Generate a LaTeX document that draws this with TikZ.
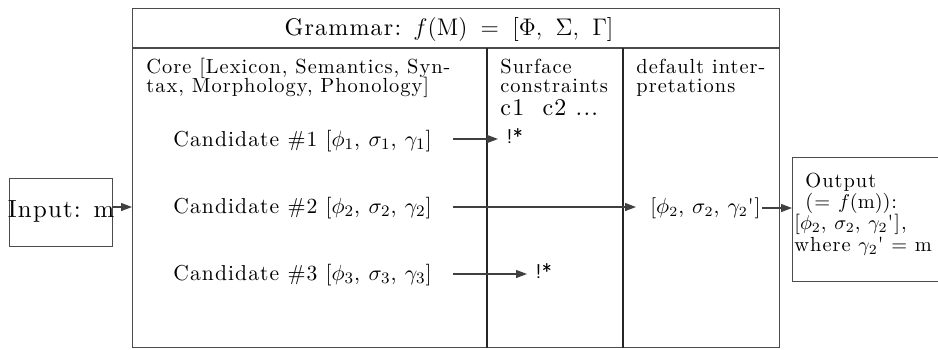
\documentclass[tikz,border=0pt]{standalone}
\usepackage{fontspec}
\usetikzlibrary{arrows.meta}
\newfontfamily\lmls{lmroman10-regular}[Extension=.otf,LetterSpace=5]
\begin{document}
\begin{tikzpicture}[x=0.5pt,y=-0.5pt,
  boxline/.style={draw=black!70, line width=0.6pt},
  divline/.style={draw=black!85, line width=0.6pt},
  arr/.style={draw=black!75, line width=0.6pt, -{Triangle[length=5.5pt,width=4pt]}},
  txt/.style={inner sep=0pt, anchor=base west, font=\lmls\fontsize{10.8}{12}\selectfont},
  small/.style={inner sep=0pt, anchor=base west, font=\lmls\fontsize{10.2}{11}\selectfont},
  bang/.style={inner sep=0pt, anchor=base west, font=\sffamily\fontsize{10}{12}\selectfont}]
\useasboundingbox (0,0) rectangle (938,349);
% grammar box
\node[boxline, anchor=north west, inner sep=0pt, minimum width=323.5pt, minimum height=169.5pt] (gram) at (132,8) {};
\coordinate (tl) at (132,48);
\coordinate (tr) at (779,48);
\draw[boxline] (tl) -- (tr);
\coordinate (d1t) at (487,48);
\coordinate (d2t) at (623,48);
\draw[divline] (d1t) -- (d1t |- gram.south);
\draw[divline] (d2t) -- (d2t |- gram.south);
\node[inner sep=0pt, anchor=base, font=\lmls\fontsize{12}{14}\selectfont] (title) at (449,35) {Grammar: $f(\mathrm{M})\;=\;[\Phi,\ \Sigma,\ \Gamma]$};
% column heads
\node[small] (core1) at (146,73) {Core [Lexicon, Semantics, Syn-};
\node[small] (core2) at (146,92) {tax, Morphology, Phonology]};
\node[small] (surf1) at (500,73) {Surface};
\node[small] (surf2) at (500,92) {constraints};
\node[inner sep=0pt, anchor=base west, font=\lmls\fontsize{12}{14}\selectfont] (cc) at (500,115) {c1\ \ c2 ...};
\node[small] (dflt1) at (636,73) {default inter-};
\node[small] (dflt2) at (636,92) {pretations};
% candidates
\node[txt] (c1) at (173,146) {Candidate \#1 [$\phi_1$, $\sigma_1$, $\gamma_1$]};
\node[txt] (c2) at (173,213) {Candidate \#2 [$\phi_2$, $\sigma_2$, $\gamma_2$]};
\node[txt] (c3) at (173,280) {Candidate \#3 [$\phi_3$, $\sigma_3$, $\gamma_3$]};
\coordinate (s1) at (453,139);
\coordinate (s2) at (453,207);
\coordinate (s3) at (453,274);
\node[bang] (x1) at (506,143) {!*};
\node[bang] (x3) at (535,278) {!*};
\node[inner sep=0pt, anchor=base west, font=\lmls\fontsize{10.5}{12}\selectfont] (r2) at (650,213) {[$\phi_2$, $\sigma_2$, $\gamma_2$']};
\draw[arr] (s1) -- ([xshift=-4pt]x1.west |- s1);
\draw[arr] (s2) -- ([xshift=-7pt]r2.west |- s2);
\draw[arr] (s3) -- ([xshift=-4pt]x3.west |- s3);
% input
\node[boxline, anchor=north west, inner sep=0pt, minimum width=51.5pt, minimum height=34pt] (inp) at (9,178) {};
\node[inner sep=0pt, anchor=base, font=\lmls\fontsize{12.4}{15}\selectfont] (inptxt) at (61,217) {Input: m};
\coordinate (a0) at (112,207);
\draw[arr] (a0) -- (a0 -| gram.west);
% output
\node[boxline, anchor=north west, inner sep=0pt, minimum width=92pt, minimum height=62pt] (out) at (792,157) {};
\node[small] (o1) at (805,187) {Output};
\node[small] (o2) at (805,208) {(= $f(\mathrm{m})$):};
\node[small] (o3) at (794,229) {[$\phi_2$, $\sigma_2$, $\gamma_2$'],};
\node[small] (o4) at (794,251) {where $\gamma_2$' = m};
\coordinate (b0) at (762,208);
\draw[arr] (b0) -- (b0 -| out.west);
\end{tikzpicture}
\end{document}
